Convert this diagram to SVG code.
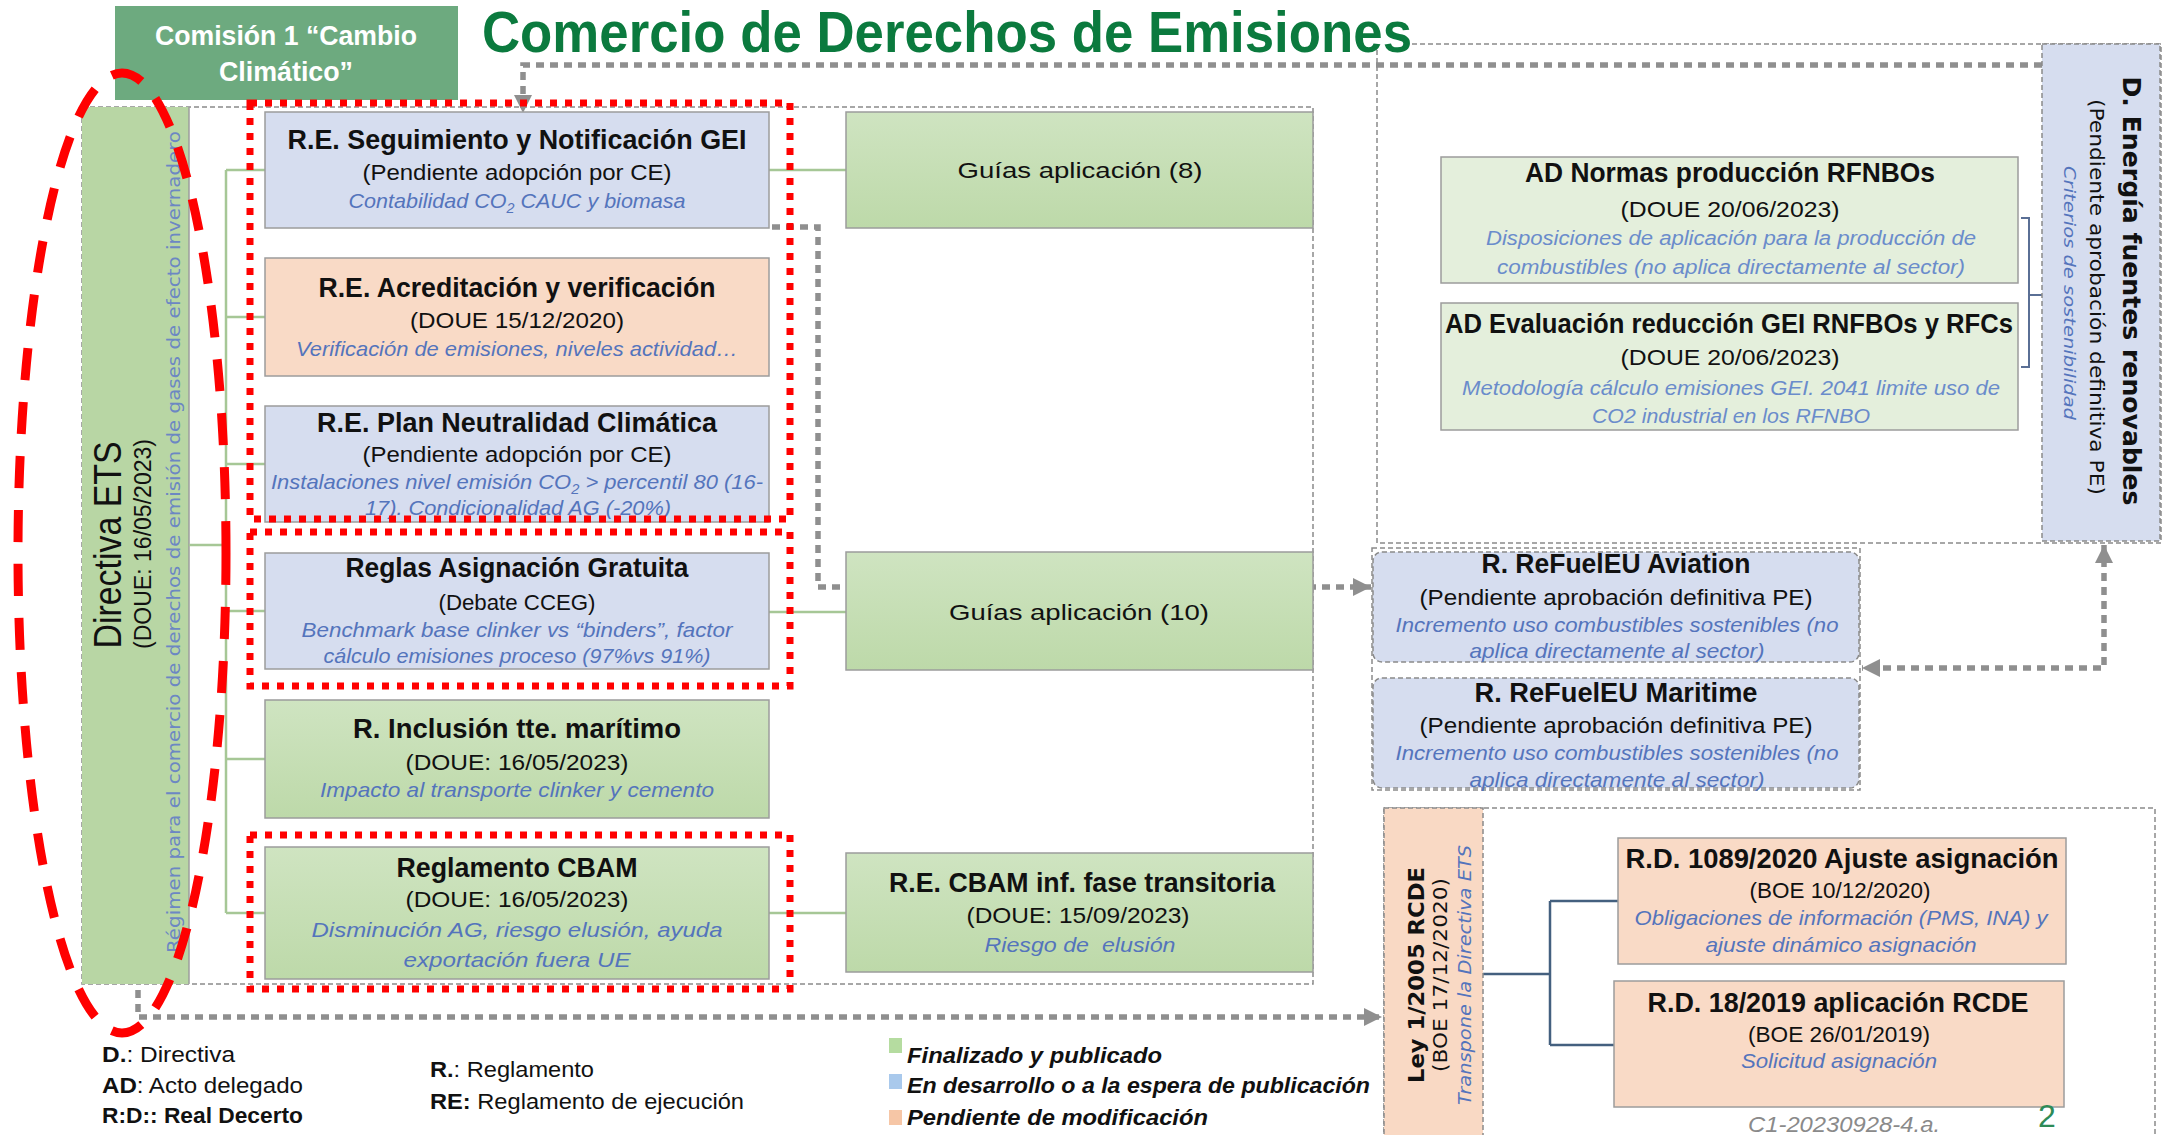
<svg xmlns="http://www.w3.org/2000/svg" width="2165" height="1135" viewBox="0 0 2165 1135">
<defs>
<style>
.lib{font-family:"Liberation Sans",Arial,sans-serif}
.t{font-family:"Liberation Sans",Arial,sans-serif;font-weight:bold;font-size:27px;fill:#111;text-anchor:middle}
.s{font-family:"Liberation Sans",Arial,sans-serif;font-size:22px;fill:#111;text-anchor:middle}
.i{font-family:"Liberation Sans",Arial,sans-serif;font-style:italic;font-size:21px;fill:#5474BC;text-anchor:middle}
.i2{font-family:"Liberation Sans",Arial,sans-serif;font-style:italic;font-size:20px;fill:#6A8CCB;text-anchor:middle}
.box{stroke:#9c9c9c;stroke-width:1.5}
.blue{fill:#D6DDEF}
.peach{fill:#F9DAC6}
.green{fill:url(#gg)}
.pale{fill:#E4EFDC}
.cont{fill:none;stroke:#8a8a8a;stroke-width:1.5;stroke-dasharray:5 3}
.tree{fill:none;stroke:#A6C796;stroke-width:2.5}
.dot{fill:none;stroke:#8f8f8f;stroke-width:5.5;stroke-dasharray:8 6}
.red{fill:none;stroke:#FF0000;stroke-width:7;stroke-dasharray:7 8}
.leg{font-family:"Liberation Sans",Arial,sans-serif;font-size:22px;fill:#111}
.legi{font-family:"Liberation Sans",Arial,sans-serif;font-size:22px;fill:#111;font-weight:bold;font-style:italic}
.dv{font-family:"DejaVu Sans",Verdana,sans-serif;text-anchor:middle}
</style>
<linearGradient id="gg" x1="0" y1="0" x2="0" y2="1">
<stop offset="0" stop-color="#CFE4C1"/>
<stop offset="1" stop-color="#BDD9A9"/>
</linearGradient>
<marker id="ah" viewBox="0 0 10 10" refX="10" refY="5" markerWidth="18" markerHeight="18" markerUnits="userSpaceOnUse" orient="auto-start-reverse">
<path d="M0,0 L10,5 L0,10 z" fill="#8f8f8f"/>
</marker>
</defs>
<rect width="2165" height="1135" fill="#ffffff"/>

<!-- containers -->
<g id="containers">
<rect class="cont" x="82" y="107" width="1231" height="877"/>
<path class="cont" d="M1412,44 H2161 V543 H1377 V50"/>
<rect class="cont" x="1372" y="548" width="488" height="242"/>
<path class="cont" d="M1384,1140 V808 H2155 V1140"/>
</g>

<!-- header -->
<g id="comision">
<rect x="115" y="6" width="343" height="94" fill="#6DAA7F"/>
<text class="lib" x="286" y="45" font-size="28" font-weight="bold" fill="#fff" text-anchor="middle" textLength="262" lengthAdjust="spacingAndGlyphs">Comisión 1 “Cambio</text>
<text class="lib" x="286" y="81" font-size="28" font-weight="bold" fill="#fff" text-anchor="middle" textLength="134" lengthAdjust="spacingAndGlyphs">Climático”</text>
</g>
<g id="title">
<text class="lib" x="482" y="52" font-size="57" font-weight="bold" fill="#0B7A3E" textLength="930" lengthAdjust="spacingAndGlyphs">Comercio de Derechos de Emisiones</text>
</g>

<!-- Directiva ETS -->
<g id="directiva-ets">
<rect x="82" y="107" width="107" height="877" fill="#B8D6A4"/>
<line x1="189" y1="107" x2="189" y2="984" stroke="#9c9c9c" stroke-width="1.5"/>
<text class="lib" transform="translate(121,545) rotate(-90)" font-size="38" fill="#111" text-anchor="middle" textLength="207" lengthAdjust="spacingAndGlyphs">Directiva ETS</text>
<text class="lib" transform="translate(151,544) rotate(-90)" font-size="23" fill="#111" text-anchor="middle" textLength="210" lengthAdjust="spacingAndGlyphs">(DOUE: 16/05/2023)</text>
<text class="dv" transform="translate(180,542) rotate(-90)" font-size="17" fill="#6C87C3" textLength="822" lengthAdjust="spacingAndGlyphs">Régimen para el comercio de derechos de emisión de gases de efecto invernadero</text>
</g>

<!-- connectors -->
<g id="connectors">
<path class="tree" d="M189,545 H226 M226,170 V913 M226,170 H265 M226,317 H265 M226,464 H265 M226,611 H265 M226,759 H265 M226,913 H265"/>
<path class="tree" d="M769,170 H846 M769,612 H846 M769,913 H846"/>
<path d="M2021,218 H2029 V367 H2021 M2029,295 H2042" fill="none" stroke="#5A6F95" stroke-width="2"/>
<path d="M1483,974 H1550 M1550,901 V1045 M1550,901 H1618 M1550,1045 H1614" fill="none" stroke="#44607F" stroke-width="2.5"/>
<path class="dot" d="M2042,65 H523 V113" marker-end="url(#ah)"/>
<path class="dot" d="M772,227 H818 V587 H1371" marker-end="url(#ah)"/>
<path class="dot" d="M138,990 V1017 H1382" marker-end="url(#ah)"/>
<path class="dot" d="M2104,545 V668 H1862" marker-start="url(#ah)" marker-end="url(#ah)"/>
</g>

<!-- left column boxes -->
<g id="re-seguimiento">
<rect class="box blue" x="265" y="112" width="504" height="116"/>
<text class="t" x="517" y="149" textLength="459" lengthAdjust="spacingAndGlyphs">R.E. Seguimiento y Notificación  GEI</text>
<text class="s" x="517" y="180" textLength="309" lengthAdjust="spacingAndGlyphs">(Pendiente adopción por CE)</text>
<text class="i" x="517" y="208" textLength="337" lengthAdjust="spacingAndGlyphs">Contabilidad CO<tspan font-size="14" dy="5">2</tspan><tspan dy="-5"> CAUC y biomasa</tspan></text>
</g>
<g id="re-acreditacion">
<rect class="box peach" x="265" y="258" width="504" height="118"/>
<text class="t" x="517" y="297" textLength="397" lengthAdjust="spacingAndGlyphs">R.E. Acreditación y verificación</text>
<text class="s" x="517" y="328" textLength="214" lengthAdjust="spacingAndGlyphs">(DOUE 15/12/2020)</text>
<text class="i" x="517" y="356" textLength="442" lengthAdjust="spacingAndGlyphs">Verificación de emisiones, niveles actividad…</text>
</g>
<g id="re-plan-neutralidad">
<rect class="box blue" x="265" y="406" width="504" height="116"/>
<text class="t" x="517" y="432" textLength="400" lengthAdjust="spacingAndGlyphs">R.E. Plan Neutralidad Climática</text>
<text class="s" x="517" y="462" textLength="309" lengthAdjust="spacingAndGlyphs">(Pendiente adopción por CE)</text>
<text class="i" x="517" y="489" textLength="492" lengthAdjust="spacingAndGlyphs">Instalaciones nivel emisión CO<tspan font-size="14" dy="5">2</tspan><tspan dy="-5"> &gt; percentil 80 (16-</tspan></text>
<text class="i" x="518" y="515" textLength="306" lengthAdjust="spacingAndGlyphs">17). Condicionalidad AG (-20%)</text>
</g>
<g id="reglas-asignacion">
<rect class="box blue" x="265" y="553" width="504" height="116"/>
<text class="t" x="517" y="577" textLength="343" lengthAdjust="spacingAndGlyphs">Reglas Asignación Gratuita</text>
<text class="s" x="517" y="610" textLength="157" lengthAdjust="spacingAndGlyphs">(Debate CCEG)</text>
<text class="i" x="517" y="637" textLength="431" lengthAdjust="spacingAndGlyphs">Benchmark base clinker vs “binders”, factor</text>
<text class="i" x="517" y="663" textLength="387" lengthAdjust="spacingAndGlyphs">cálculo emisiones proceso (97%vs 91%)</text>
</g>
<g id="r-inclusion">
<rect class="box green" x="265" y="700" width="504" height="118"/>
<text class="t" x="517" y="738" textLength="328" lengthAdjust="spacingAndGlyphs">R. Inclusión tte. marítimo</text>
<text class="s" x="517" y="770" textLength="223" lengthAdjust="spacingAndGlyphs">(DOUE: 16/05/2023)</text>
<text class="i" x="517" y="797" textLength="394" lengthAdjust="spacingAndGlyphs">Impacto al transporte clinker y cemento</text>
</g>
<g id="reglamento-cbam">
<rect class="box green" x="265" y="847" width="504" height="132"/>
<text class="t" x="517" y="877" textLength="241" lengthAdjust="spacingAndGlyphs">Reglamento CBAM</text>
<text class="s" x="517" y="907" textLength="223" lengthAdjust="spacingAndGlyphs">(DOUE: 16/05/2023)</text>
<text class="i" x="517" y="937" textLength="411" lengthAdjust="spacingAndGlyphs">Disminución AG, riesgo elusión, ayuda</text>
<text class="i" x="517" y="967" textLength="227" lengthAdjust="spacingAndGlyphs">exportación fuera UE</text>
</g>

<!-- middle column -->
<g id="guias-8">
<rect class="box green" x="846" y="112" width="467" height="116"/>
<text class="s" x="1080" y="178" font-size="27" textLength="245" lengthAdjust="spacingAndGlyphs">Guías aplicación (8)</text>
</g>
<g id="guias-10">
<rect class="box green" x="846" y="552" width="467" height="118"/>
<text class="s" x="1079" y="620" font-size="27" textLength="260" lengthAdjust="spacingAndGlyphs">Guías aplicación (10)</text>
</g>
<g id="re-cbam-transitoria">
<rect class="box green" x="846" y="853" width="467" height="119"/>
<text class="t" x="1082" y="892" textLength="386" lengthAdjust="spacingAndGlyphs">R.E. CBAM inf. fase transitoria</text>
<text class="s" x="1078" y="923" textLength="223" lengthAdjust="spacingAndGlyphs">(DOUE: 15/09/2023)</text>
<text class="i" x="1080" y="952" textLength="191" lengthAdjust="spacingAndGlyphs" style="white-space:pre">Riesgo de  elusión</text>
</g>

<!-- right top -->
<g id="ad-normas">
<rect class="box pale" x="1441" y="157" width="577" height="126" stroke="#c8d3c0"/>
<text class="t" x="1730" y="182" font-size="25" textLength="410" lengthAdjust="spacingAndGlyphs">AD Normas producción RFNBOs</text>
<text class="s" x="1730" y="217" font-size="21" textLength="219" lengthAdjust="spacingAndGlyphs">(DOUE 20/06/2023)</text>
<text class="i2" x="1731" y="245" textLength="490" lengthAdjust="spacingAndGlyphs">Disposiciones de aplicación para la producción de</text>
<text class="i2" x="1731" y="274" textLength="468" lengthAdjust="spacingAndGlyphs">combustibles (no aplica directamente al sector)</text>
</g>
<g id="ad-evaluacion">
<rect class="box pale" x="1441" y="303" width="577" height="127"/>
<text class="t" x="1729" y="333" font-size="25" textLength="568" lengthAdjust="spacingAndGlyphs">AD Evaluación reducción GEI RNFBOs y RFCs</text>
<text class="s" x="1730" y="365" font-size="21" textLength="219" lengthAdjust="spacingAndGlyphs">(DOUE 20/06/2023)</text>
<text class="i2" x="1731" y="395" textLength="538" lengthAdjust="spacingAndGlyphs">Metodología cálculo emisiones GEI. 2041 limite uso de</text>
<text class="i2" x="1731" y="423" textLength="278" lengthAdjust="spacingAndGlyphs">CO2 industrial en los RFNBO</text>
</g>
<g id="d-energia-renovables">
<rect x="2042" y="44" width="118" height="497" fill="#D6DDEF" stroke="#8a8a8a" stroke-width="1.5" stroke-dasharray="5 3"/>
<text class="dv" transform="translate(2123,291) rotate(90)" font-size="24" font-weight="bold" fill="#111" textLength="429" lengthAdjust="spacingAndGlyphs">D. Energía fuentes renovables</text>
<text class="dv" transform="translate(2090,297) rotate(90)" font-size="19" fill="#111" textLength="396" lengthAdjust="spacingAndGlyphs">(Pendiente aprobación definitiva PE)</text>
<text class="dv" transform="translate(2064,293) rotate(90)" font-size="16" font-style="italic" fill="#5474BC" textLength="254" lengthAdjust="spacingAndGlyphs">Criterios de sostenibilidad</text>
</g>

<!-- ReFuelEU -->
<g id="refueleu-aviation">
<rect x="1373" y="552" width="486" height="110" rx="9" fill="#D6DDEF" stroke="#8a8a8a" stroke-width="1.5" stroke-dasharray="5 3"/>
<text class="t" x="1616" y="573" font-size="26" textLength="269" lengthAdjust="spacingAndGlyphs">R. ReFuelEU Aviation</text>
<text class="s" x="1616" y="605" textLength="393" lengthAdjust="spacingAndGlyphs">(Pendiente aprobación definitiva PE)</text>
<text class="i" x="1617" y="632" textLength="443" lengthAdjust="spacingAndGlyphs">Incremento uso combustibles sostenibles (no</text>
<text class="i" x="1617" y="658" textLength="295" lengthAdjust="spacingAndGlyphs">aplica directamente al sector)</text>
</g>
<g id="refueleu-maritime">
<rect x="1373" y="678" width="486" height="110" rx="9" fill="#D6DDEF" stroke="#8a8a8a" stroke-width="1.5" stroke-dasharray="5 3"/>
<text class="t" x="1616" y="702" font-size="26" textLength="283" lengthAdjust="spacingAndGlyphs">R. ReFuelEU Maritime</text>
<text class="s" x="1616" y="733" textLength="393" lengthAdjust="spacingAndGlyphs">(Pendiente aprobación definitiva PE)</text>
<text class="i" x="1617" y="760" textLength="443" lengthAdjust="spacingAndGlyphs">Incremento uso combustibles sostenibles (no</text>
<text class="i" x="1617" y="787" textLength="295" lengthAdjust="spacingAndGlyphs">aplica directamente al sector)</text>
</g>

<!-- Ley -->
<g id="ley-1-2005">
<rect x="1384" y="808" width="99" height="332" fill="#F9D9C4" stroke="#8a8a8a" stroke-width="1.5" stroke-dasharray="5 3"/>
<text class="dv" transform="translate(1424,975) rotate(-90)" font-size="22" font-weight="bold" fill="#111" textLength="216" lengthAdjust="spacingAndGlyphs">Ley 1/2005 RCDE</text>
<text class="dv" transform="translate(1447,975) rotate(-90)" font-size="20" fill="#111" textLength="194" lengthAdjust="spacingAndGlyphs">(BOE 17/12/2020)</text>
<text class="dv" transform="translate(1471,975) rotate(-90)" font-size="18" font-style="italic" fill="#5474BC" textLength="260" lengthAdjust="spacingAndGlyphs">Transpone la Directiva ETS</text>
</g>
<g id="rd-1089-2020">
<rect class="box peach" x="1618" y="838" width="448" height="126"/>
<text class="t" x="1842" y="868" font-size="26" textLength="433" lengthAdjust="spacingAndGlyphs">R.D. 1089/2020 Ajuste asignación</text>
<text class="s" x="1840" y="898" font-size="20" textLength="181" lengthAdjust="spacingAndGlyphs">(BOE 10/12/2020)</text>
<text class="i" x="1841" y="925" textLength="413" lengthAdjust="spacingAndGlyphs">Obligaciones de información (PMS, INA) y</text>
<text class="i" x="1841" y="952" textLength="271" lengthAdjust="spacingAndGlyphs">ajuste dinámico asignación</text>
</g>
<g id="rd-18-2019">
<rect class="box peach" x="1614" y="981" width="450" height="126"/>
<text class="t" x="1838" y="1012" font-size="26" textLength="381" lengthAdjust="spacingAndGlyphs">R.D. 18/2019 aplicación RCDE</text>
<text class="s" x="1839" y="1042" font-size="20" textLength="182" lengthAdjust="spacingAndGlyphs">(BOE 26/01/2019)</text>
<text class="i" x="1839" y="1068" textLength="196" lengthAdjust="spacingAndGlyphs">Solicitud asignación</text>
</g>

<!-- highlights -->
<g id="highlights">
<rect class="red" x="250" y="103" width="540" height="416"/>
<rect class="red" x="250" y="532" width="540" height="154"/>
<rect class="red" x="250" y="835" width="540" height="154"/>
<ellipse cx="122" cy="553" rx="104" ry="480" fill="none" stroke="#FF0000" stroke-width="9" stroke-dasharray="32 22"/>
</g>

<!-- legend -->
<g id="legend-abbrev">
<text class="leg" x="102" y="1062" textLength="133" lengthAdjust="spacingAndGlyphs"><tspan font-weight="bold">D.</tspan>: Directiva</text>
<text class="leg" x="102" y="1093" textLength="201" lengthAdjust="spacingAndGlyphs"><tspan font-weight="bold">AD</tspan>: Acto delegado</text>
<text class="leg" x="102" y="1123" font-weight="bold" textLength="201" lengthAdjust="spacingAndGlyphs">R:D:: Real Decerto</text>
<text class="leg" x="430" y="1077" textLength="164" lengthAdjust="spacingAndGlyphs"><tspan font-weight="bold">R.</tspan>: Reglamento</text>
<text class="leg" x="430" y="1109" textLength="314" lengthAdjust="spacingAndGlyphs"><tspan font-weight="bold">RE:</tspan> Reglamento de ejecución</text>
</g>
<g id="legend-status">
<rect x="889" y="1038" width="13" height="15" fill="#B5DCA0"/>
<rect x="889" y="1074" width="13" height="15" fill="#A9C9EC"/>
<rect x="889" y="1110" width="13" height="15" fill="#F6C6A6"/>
<text class="legi" x="907" y="1063" textLength="255" lengthAdjust="spacingAndGlyphs">Finalizado y publicado</text>
<text class="legi" x="907" y="1093" textLength="463" lengthAdjust="spacingAndGlyphs">En desarrollo o a la espera de publicación</text>
<text class="legi" x="907" y="1125" textLength="301" lengthAdjust="spacingAndGlyphs">Pendiente de modificación</text>
</g>
<g id="footer">
<text class="lib" x="1844" y="1132" font-size="22" font-style="italic" fill="#8a8a8a" text-anchor="middle" textLength="192" lengthAdjust="spacingAndGlyphs">C1-20230928-4.a.</text>
<text class="lib" x="2047" y="1127" font-size="32" fill="#2E8B57" text-anchor="middle">2</text>
</g>
</svg>
